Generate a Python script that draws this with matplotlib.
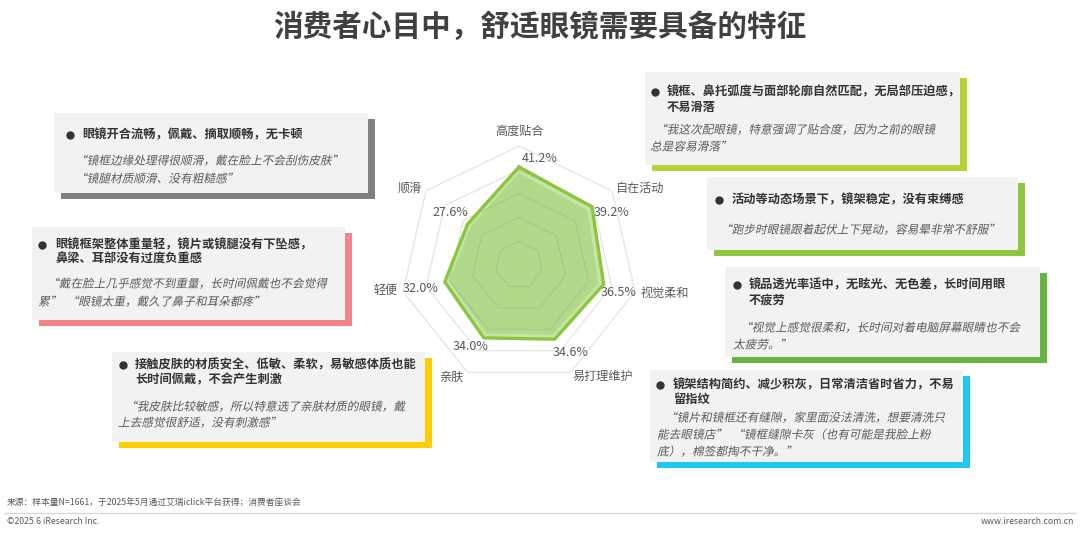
import numpy as np
import matplotlib
matplotlib.use('Agg')
import matplotlib.pyplot as plt
from matplotlib.patches import Rectangle
from matplotlib.patheffects import AbstractPathEffect
from matplotlib.transforms import Affine2D

plt.rcParams['font.family'] = ['Noto Sans CJK SC', 'DejaVu Sans']

# radar data, clockwise from top
features = ['高度贴合', '自在活动', '视觉柔和', '易打理维护', '亲肤', '轻便', '顺滑']
shares = [41.2, 39.2, 36.5, 34.6, 34.0, 32.0, 27.6]

title = '消费者心目中，舒适眼镜需要具备的特征'
source = '来源：样本量N=1661，于2025年5月通过艾瑞iclick平台获得；消费者座谈会'

heads = [
    ['眼镜开合流畅，佩戴、摘取顺畅，无卡顿'],
    ['眼镜框架整体重量轻，镜片或镜腿没有下坠感，', '鼻梁、耳部没有过度负重感'],
    ['接触皮肤的材质安全、低敏、柔软，易敏感体质也能', '长时间佩戴，不会产生刺激'],
    ['镜框、鼻托弧度与面部轮廓自然匹配，无局部压迫感，', '不易滑落'],
    ['活动等动态场景下，镜架稳定，没有束缚感'],
    ['镜品透光率适中，无眩光、无色差，长时间用眼', '不疲劳'],
    ['镜架结构简约、减少积灰，日常清洁省时省力，不易', '留指纹'],
]
quotes = [
    ['“镜框边缘处理得很顺滑，戴在脸上不会刮伤皮肤”', '“镜腿材质顺滑、没有粗糙感”'],
    ['“戴在脸上几乎感觉不到重量，长时间佩戴也不会觉得', '累”  “眼镜太重，戴久了鼻子和耳朵都疼”'],
    ['“我皮肤比较敏感，所以特意选了亲肤材质的眼镜，戴', '上去感觉很舒适，没有刺激感”'],
    ['“我这次配眼镜，特意强调了贴合度，因为之前的眼镜', '总是容易滑落”'],
    ['“跑步时眼镜跟着起伏上下晃动，容易晕非常不舒服”'],
    ['“视觉上感觉很柔和，长时间对着电脑屏幕眼睛也不会', '太疲劳。”'],
    ['“镜片和镜框还有缝隙，家里面没法清洗，想要清洗只', '能去眼镜店”  “镜框缝隙卡灰（也有可能是我脸上粉', '底），棉签都掏不干净。”'],
]

# layout (pixel coords): box rect, shadow colour, bullet x, head x, head ys, quote xs, quote ys
boxes = [
    ((54, 113, 368, 193), '#7f7f7f', 70, 82, [135], [75, 75], [161, 179]),
    ((32, 227, 345, 320), '#f3858a', 42, 55, [245, 259], [47, 38], [284, 302]),
    ((112, 352, 425, 442), '#ffcc00', 123, 135, [365, 380], [125, 118], [407, 423]),
    ((645, 72, 960, 165), '#b6d334', 655, 667, [92, 107], [655, 650], [130, 147]),
    ((707, 177, 1018, 250), '#8dc63f', 719, 732, [200], [720], [230]),
    ((725, 267, 1040, 357), '#67b440', 737, 749, [285, 300], [740, 733], [328, 345]),
    ((650, 370, 963, 462), '#1ec8f0', 660, 673, [385, 399], [665, 657, 657], [418, 435, 452]),
]

# label positions (pixel coords)
name_pos = [(519, 131), (639, 188), (665, 293), (603, 376), (451, 377), (386, 290), (410, 188)]
pct_pos = [(540, 158), (612, 213), (619, 293), (571, 353), (471, 347), (421, 288), (450, 212)]


class Oblique(AbstractPathEffect):
    def __init__(self, deg=12):
        super().__init__()
        self._skew = Affine2D().skew_deg(deg, 0)

    def draw_path(self, renderer, gc, tpath, affine, rgbFace=None):
        renderer.draw_path(gc, tpath, self._skew + affine, rgbFace)


W, H = 1080, 533
fig = plt.figure(figsize=(W / 100, H / 100), dpi=100)
bg = fig.add_axes([0, 0, 1, 1])
bg.set_xlim(0, W)
bg.set_ylim(H, 0)
bg.axis('off')

bg.text(540, 27, title, ha='center', va='center', fontsize=21.3, fontweight='bold', color='#404040')

for (x0, y0, x1, y1), col, bx, hx, hys, qxs, qys in boxes:
    bg.add_patch(Rectangle((x0 + 7, y0 + 6), x1 - x0, y1 - y0, facecolor=col, edgecolor='none', zorder=1))
    bg.add_patch(Rectangle((x0, y0), x1 - x0, y1 - y0, facecolor='#f2f2f2', edgecolor='none', zorder=2))
for i, (rect, col, bx, hx, hys, qxs, qys) in enumerate(boxes):
    bg.plot(bx, hys[0], 'o', ms=5, color='#333333', zorder=3)
    for line, y in zip(heads[i], hys):
        bg.text(hx, y, line, ha='left', va='center', fontsize=8.8, fontweight='bold', color='#333333', zorder=3)
    for line, x, y in zip(quotes[i], qxs, qys):
        bg.text(x, y, line, ha='left', va='center', fontsize=8.4, color='#595959', zorder=3,
                path_effects=[Oblique(12)])

for name, (x, y) in zip(features, name_pos):
    bg.text(x, y, name, ha='center', va='center', fontsize=8.7, color='#595959')
for v, (x, y) in zip(shares, pct_pos):
    bg.text(x, y, f'{v:.1f}%', ha='center', va='center', fontsize=9, color='#595959')

# footer
bg.text(7, 503, source, ha='left', va='center', fontsize=6.3, color='#595959')
bg.plot([4, 1076], [513, 513], color='#d9d9d9', lw=1)
bg.text(7, 522, '©2025.6 iResearch Inc.', ha='left', va='center', fontsize=6.3, color='#595959')
bg.text(1074, 522, 'www.iresearch.com.cn', ha='right', va='center', fontsize=6.3, color='#595959')

# radar
cx, cy, R = 519, 265, 119
ax = fig.add_axes([(cx - R) / W, (H - cy - R) / H, 2 * R / W, 2 * R / H], projection='polar')
ax.set_theta_offset(np.pi / 2)
ax.set_theta_direction(-1)
ax.set_ylim(0, 50)
ax.patch.set_alpha(0)
ax.spines['polar'].set_visible(False)
ax.grid(False)
ax.set_xticks([])
ax.set_yticks([])

n = len(features)
ang = np.linspace(0, 2 * np.pi, n, endpoint=False)
ang_c = np.append(ang, ang[0])
vals = np.array(shares + shares[:1])

ax.fill(ang_c, vals, color='#c6e4a6', zorder=1)
ax.fill(ang_c, vals * 0.93, color='#b2d98a', zorder=2)
for r in [10, 20, 30, 40, 50]:
    ax.plot(ang_c, [r] * (n + 1), color='#8a8a8a', alpha=0.25, lw=0.8, zorder=3)
ax.plot(ang_c, vals, color='#8cc63f', lw=2.4, zorder=4)

fig.savefig('out.png', dpi=100)
